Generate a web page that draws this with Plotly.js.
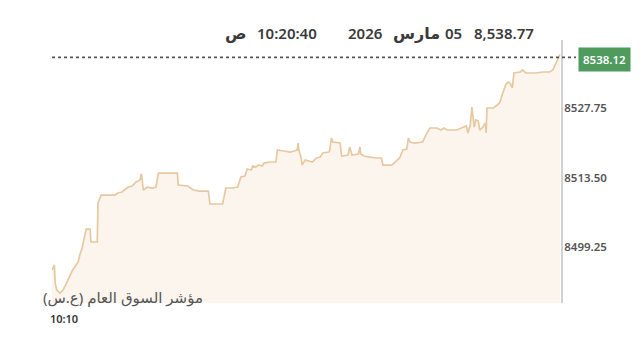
<!DOCTYPE html>
<html>
<head>
<meta charset="utf-8">
<script src="https://cdn.plot.ly/plotly-3.0.1.min.js"></script>
<style>html,body{margin:0;padding:0;background:#fff;}#chart{width:640px;height:348px;}</style>
</head>
<body>
<div id="chart"></div>
<script>
// seconds elapsed since 10:10:00
const secondsFrom1010 = [0,3,4,6,10,14,20,26,33,35,38,40,42,43,48,49,57,58,62,79,83,88,96,101,106,111,112,113,115,120,127,131,134,158,159,171,178,186,197,199,215,219,227,234,238,243,246,251,253,257,260,265,267,275,282,284,292,300,305,309,310,311,314,315,319,323,328,333,338,341,349,350,352,354,363,365,373,375,378,386,388,389,393,401,407,415,417,428,435,438,442,447,449,451,457,467,471,476,485,490,494,498,510,515,522,524,527,529,532,534,537,539,543,546,547,548,556,561,564,568,572,575,577,580,582,590,593,597,609,619,627,631,635,638,640];
const indexValues = [8494.54,8495.56,8491.87,8490.44,8489.82,8490.44,8492.49,8494.54,8496.18,8497.61,8499.05,8500.69,8502.33,8502.94,8502.94,8500.28,8500.28,8508.27,8509.91,8509.91,8510.32,8510.53,8511.55,8511.76,8512.58,8512.99,8514.22,8514.01,8510.94,8511.55,8511.35,8511.55,8514.42,8514.42,8511.96,8511.76,8510.94,8510.73,8510.73,8508.07,8508.07,8511.35,8511.35,8511.55,8513.60,8513.81,8515.24,8515.04,8515.86,8515.65,8516.06,8515.86,8516.47,8516.68,8516.68,8519.14,8518.93,8518.73,8518.93,8519.14,8520.57,8519.14,8517.50,8516.06,8517.09,8516.88,8516.68,8517.50,8517.70,8518.52,8518.73,8519.14,8521.60,8520.78,8520.57,8517.91,8518.11,8519.75,8518.11,8518.32,8519.75,8518.32,8517.91,8517.70,8517.50,8517.50,8516.06,8516.06,8517.09,8517.50,8519.14,8519.34,8521.60,8520.78,8520.57,8520.78,8522.21,8523.65,8523.65,8523.24,8523.65,8523.24,8523.24,8523.65,8524.06,8522.62,8524.26,8527.96,8523.85,8525.29,8525.08,8523.24,8523.85,8524.67,8522.62,8527.75,8527.75,8528.37,8528.78,8530.83,8532.67,8533.08,8532.88,8531.85,8534.93,8535.13,8535.54,8534.93,8534.93,8535.13,8535.13,8535.54,8537.18,8538.00,8538.77];

const yTickVals = [8499.25, 8513.50, 8527.75];
const yTickText = ['8499.25', '8513.50', '8527.75'];
const xTickVals = [0];
const xTickText = ['10:10'];
const referenceLevel = 8538.12;
const headerTokens = ['8,538.77', '05', 'مارس', '2026', '10:20:40', 'ص'];
const indexName = '\u200Fمؤشر السوق العام (ع.س)\u200F';

// layout helpers (pixel -> paper)
const L = 52, W = 509, B = 303, H = 263;
const px = x => (x - L) / W;
const py = y => (B - y) / H;
const headerCenters = [504, 453.5, 416, 365, 286.5, 236];

const FONT = 'Noto Sans, Open Sans, DejaVu Sans, sans-serif';

const trace = {
  x: secondsFrom1010,
  y: indexValues,
  type: 'scatter',
  mode: 'lines',
  line: {color: '#e6c9a0', width: 1.7},
  fill: 'tozeroy',
  fillcolor: '#fbf5ee',
  hoverinfo: 'skip'
};

const annotations = headerTokens.map((t, i) => ({
  text: t, xref: 'paper', yref: 'paper',
  x: px(headerCenters[i]), y: py(33), xanchor: 'center', yanchor: 'middle',
  showarrow: false,
  font: {family: FONT, size: i === 2 || i === 5 ? 16 : 15, color: '#3a3a3a', weight: 600}
}));

annotations.push({
  text: indexName, xref: 'paper', yref: 'paper',
  x: px(205), y: py(297), xanchor: 'right', yanchor: 'middle',
  showarrow: false,
  font: {family: FONT, size: 15, color: '#555555'}
});

annotations.push({
  text: referenceLevel.toFixed(2), xref: 'paper', yref: 'y',
  x: px(604), y: referenceLevel, xanchor: 'center', yanchor: 'middle',
  yshift: -2,
  showarrow: false, bgcolor: '#4f9a5d', borderpad: 4,
  font: {family: FONT, size: 11.5, color: '#ffffff', weight: 600}
});

const layout = {
  width: 640, height: 348,
  margin: {l: 52, r: 79, t: 40, b: 45},
  paper_bgcolor: '#ffffff', plot_bgcolor: '#ffffff',
  showlegend: false,
  xaxis: {
    range: [0, 641.3], showgrid: false, zeroline: false, showline: false,
    tickvals: xTickVals, ticktext: xTickText, ticks: '',
    ticklabelshift: 12, ticklabelstandoff: 8,
    tickfont: {family: FONT, size: 11, color: '#333333', weight: 600},
    fixedrange: true
  },
  yaxis: {
    side: 'right',
    range: [8487.78, 8541.69], showgrid: false, zeroline: false,
    showline: true, linecolor: '#d2d2d2', linewidth: 2,
    tickvals: yTickVals, ticktext: yTickText, ticks: '',
    ticklabelstandoff: -1,
    tickfont: {family: FONT, size: 11.5, color: '#555555', weight: 600},
    fixedrange: true
  },
  shapes: [{
    type: 'line', xref: 'paper', yref: 'y',
    x0: 0, x1: px(576), y0: referenceLevel, y1: referenceLevel,
    line: {color: '#555555', width: 1.6, dash: 'dot'}
  }],
  annotations: annotations
};

Plotly.newPlot('chart', [trace], layout, {displayModeBar: false, staticPlot: true});
</script>
</body>
</html>
